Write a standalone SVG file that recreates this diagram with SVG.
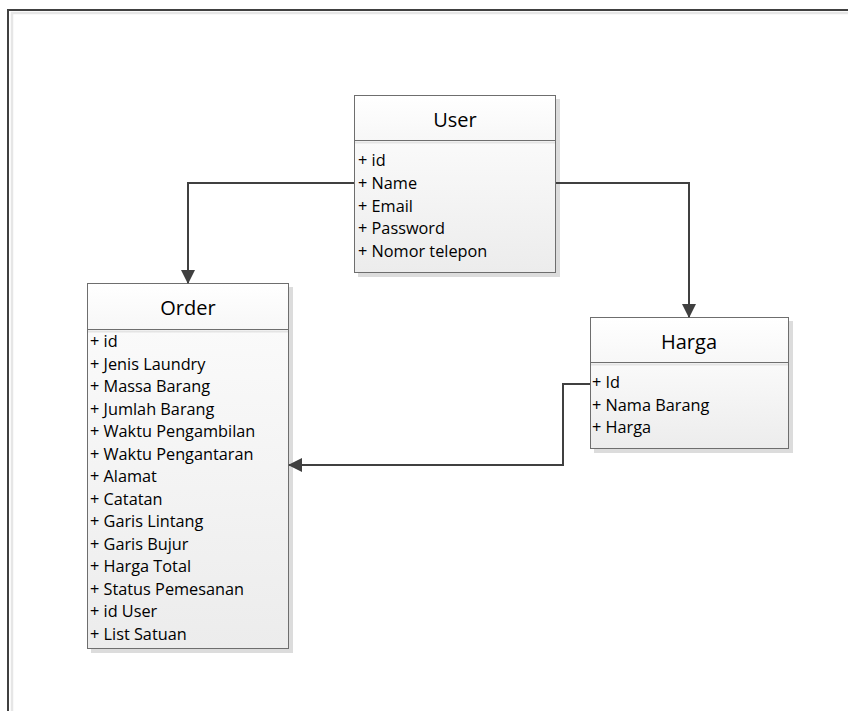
<svg xmlns="http://www.w3.org/2000/svg" width="848" height="711" viewBox="0 0 848 711">
  <defs>
    <linearGradient id="headFill" x1="0" y1="0" x2="0" y2="1">
      <stop offset="0" stop-color="#ffffff"/>
      <stop offset="1" stop-color="#f7f7f7"/>
    </linearGradient>
    <linearGradient id="bodyFill" x1="0" y1="0" x2="0" y2="1">
      <stop offset="0" stop-color="#fafafa"/>
      <stop offset="1" stop-color="#ececec"/>
    </linearGradient>
    <marker id="arrow" viewBox="0 0 14 14" refX="13" refY="7" markerWidth="14" markerHeight="14" markerUnits="userSpaceOnUse" orient="auto">
      <path d="M0,0 L14,7 L0,14 Z" fill="#404040"/>
    </marker>
    <style>
      .shadow { fill: #dcdcdc; }
      .head { fill: url(#headFill); stroke: none; }
      .body { fill: url(#bodyFill); stroke: none; }
      .frame { fill: none; stroke: #6e6e6e; stroke-width: 1; }
      .divider { stroke: #6e6e6e; stroke-width: 1; }
      .divlight { stroke: #e4e4e4; stroke-width: 2; }
      .title { font-family: "Open Sans", "Liberation Sans", sans-serif; font-size: 20px; fill: #000; text-anchor: middle; }
      .attr { font-family: "Open Sans", "Liberation Sans", sans-serif; font-size: 16.3px; fill: #000; }
      .conn { fill: none; stroke: #404040; stroke-width: 2; }
    </style>
  </defs>

  <rect width="848" height="711" fill="#ffffff"/>

  <!-- page frame -->
  <g id="page-frame">
    <path d="M12,711 V13 H848" fill="none" stroke="#e6e6e6" stroke-width="2.5"/>
    <path d="M8,711 V10 H848" fill="none" stroke="#404040" stroke-width="2"/>
  </g>

  <!-- User class -->
  <g id="user">
    <rect class="shadow" x="358" y="99" width="202" height="178"/>
    <rect class="head" x="354.5" y="95.5" width="201" height="45"/>
    <rect class="body" x="354.5" y="140.5" width="201" height="132"/>
    <line class="divlight" x1="355" y1="142.5" x2="555" y2="142.5"/>
    <line class="divider" x1="354.5" y1="140.5" x2="555.5" y2="140.5"/>
    <rect class="frame" x="354.5" y="95.5" width="201" height="177"/>
    <text class="title" x="455" y="127">User</text>
    <text class="attr" x="358" y="166">+ id</text>
    <text class="attr" x="358" y="189">+ Name</text>
    <text class="attr" x="358" y="211.5">+ Email</text>
    <text class="attr" x="358" y="234">+ Password</text>
    <text class="attr" x="358" y="256.5">+ Nomor telepon</text>
  </g>

  <!-- Order class -->
  <g id="order">
    <rect class="shadow" x="91" y="287" width="202" height="366"/>
    <rect class="head" x="87.5" y="283.5" width="201" height="46"/>
    <rect class="body" x="87.5" y="329.5" width="201" height="319"/>
    <line class="divlight" x1="88" y1="331.5" x2="288" y2="331.5"/>
    <line class="divider" x1="87.5" y1="329.5" x2="288.5" y2="329.5"/>
    <rect class="frame" x="87.5" y="283.5" width="201" height="365"/>
    <text class="title" x="188" y="315">Order</text>
    <text class="attr" x="90" y="347">+ id</text>
    <text class="attr" x="90" y="369.5">+ Jenis Laundry</text>
    <text class="attr" x="90" y="392">+ Massa Barang</text>
    <text class="attr" x="90" y="414.5">+ Jumlah Barang</text>
    <text class="attr" x="90" y="437">+ Waktu Pengambilan</text>
    <text class="attr" x="90" y="459.5">+ Waktu Pengantaran</text>
    <text class="attr" x="90" y="482">+ Alamat</text>
    <text class="attr" x="90" y="504.5">+ Catatan</text>
    <text class="attr" x="90" y="527">+ Garis Lintang</text>
    <text class="attr" x="90" y="549.5">+ Garis Bujur</text>
    <text class="attr" x="90" y="572">+ Harga Total</text>
    <text class="attr" x="90" y="594.5">+ Status Pemesanan</text>
    <text class="attr" x="90" y="617">+ id User</text>
    <text class="attr" x="90" y="639.5">+ List Satuan</text>
  </g>

  <!-- Harga class -->
  <g id="harga">
    <rect class="shadow" x="594" y="321" width="199" height="132"/>
    <rect class="head" x="590.5" y="317.5" width="198" height="45"/>
    <rect class="body" x="590.5" y="362.5" width="198" height="86"/>
    <line class="divlight" x1="591" y1="364.5" x2="788" y2="364.5"/>
    <line class="divider" x1="590.5" y1="362.5" x2="788.5" y2="362.5"/>
    <rect class="frame" x="590.5" y="317.5" width="198" height="131"/>
    <text class="title" x="689" y="349">Harga</text>
    <text class="attr" x="592" y="388">+ Id</text>
    <text class="attr" x="592" y="410.5">+ Nama Barang</text>
    <text class="attr" x="592" y="433">+ Harga</text>
  </g>

  <!-- connectors -->
  <g id="connectors">
    <path class="conn" d="M354,183 H188 V283" marker-end="url(#arrow)"/>
    <path class="conn" d="M556,183 H689 V317" marker-end="url(#arrow)"/>
    <path class="conn" d="M590,384 H563 V465 H289" marker-end="url(#arrow)"/>
  </g>
</svg>
